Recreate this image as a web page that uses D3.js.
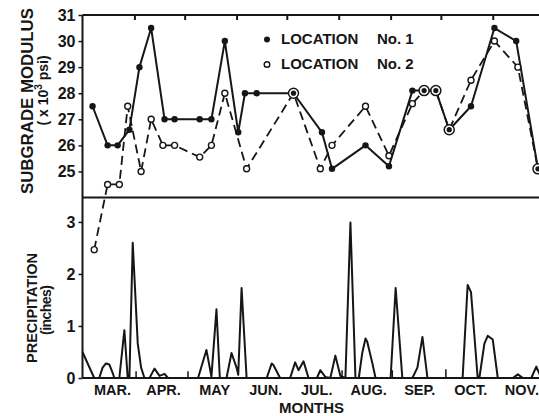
<!DOCTYPE html>
<html>
<head>
<meta charset="utf-8">
<script src="https://cdn.jsdelivr.net/npm/d3@7"></script>
<style>
    body { margin: 0; background: #fff; }
    svg { display: block; font-family: "Liberation Sans", Arial, sans-serif; font-weight: bold; }
</style>
</head>
<body>
<div id="chart"></div>
<script>
// month labels along the bottom
const months = ['MAR.', 'APR.', 'MAY', 'JUN.', 'JUL.', 'AUG.', 'SEP.', 'OCT.', 'NOV.'];
const monthStarts = ['03-01', '04-01', '05-01', '06-01', '07-01', '08-01', '09-01', '10-01', '11-01', '12-01'];

// subgrade modulus, location no. 1 (x 10^3 psi)
const loc1Dates = ['03-07', '03-16', '03-22', '03-29', '04-04', '04-11', '04-19', '04-25', '05-10', '05-17',
    '05-25', '06-02', '06-06', '06-13', '07-05', '07-22', '07-28', '08-17', '08-31', '09-14',
    '09-21', '09-28', '10-06', '10-19', '11-02', '11-15', '11-28'];
const loc1Values = [27.5, 26.0, 26.0, 26.6, 29.0, 30.5, 27.0, 27.0, 27.0, 27.0,
    30.0, 26.5, 28.0, 28.0, 28.0, 26.5, 25.1, 26.0, 25.2, 28.1,
    28.1, 28.1, 26.6, 27.5, 30.5, 30.0, 25.1];

// subgrade modulus, location no. 2
const loc2Dates = ['03-08', '03-16', '03-23', '03-28', '04-05', '04-11', '04-18', '04-25', '05-10', '05-17',
    '05-25', '06-07', '07-05', '07-21', '07-28', '08-17', '08-31', '09-14', '09-21', '09-28',
    '10-06', '10-19', '11-02', '11-16', '11-28'];
const loc2Values = [22.0, 24.5, 24.5, 27.5, 25.0, 27.0, 26.0, 26.0, 25.55, 26.0,
    28.0, 25.1, 28.0, 25.1, 26.0, 27.5, 25.6, 27.6, 28.1, 28.1,
    26.6, 28.5, 30.0, 29.0, 25.1];

// precipitation (inches)
const precipDates = ['03-01', '03-08', '03-11', '03-13', '03-15', '03-17', '03-19', '03-20', '03-23', '03-26',
    '03-28', '03-29', '03-31', '04-03', '04-05', '04-07', '04-10', '04-13', '04-16', '04-19',
    '04-21', '05-09', '05-14', '05-17', '05-20', '05-22', '05-26', '05-29', '06-01', '06-02',
    '06-04', '06-07', '06-19', '06-22', '06-23', '06-27', '07-03', '07-06', '07-08', '07-11',
    '07-14', '07-19', '07-21', '07-24', '07-27', '07-30', '08-02', '08-05', '08-08', '08-11',
    '08-13', '08-15', '08-17', '08-18', '08-21', '08-23', '09-01', '09-04', '09-08', '09-14',
    '09-17', '09-20', '09-23', '10-14', '10-17', '10-19', '10-23', '10-24', '10-27', '10-29',
    '11-01', '11-04', '11-13', '11-16', '11-19', '11-24', '11-27', '11-30'];
const precipValues = [0.5, 0, 0, 0.2, 0.28, 0.26, 0.1, 0, 0, 0.92,
    0, 0, 2.6, 0.66, 0.2, 0, 0, 0.18, 0.04, 0.08,
    0, 0, 0.54, 0.03, 1.32, 0, 0, 0.48, 0.2, 0.06,
    1.73, 0, 0, 0.28, 0.25, 0, 0, 0.3, 0.15, 0.32,
    0, 0, 0.15, 0.02, 0, 0.43, 0.04, 0, 2.99, 0,
    0, 0.47, 0.76, 0.7, 0.3, 0, 0, 1.73, 0, 0,
    0.2, 0.79, 0, 0, 1.79, 1.65, 0, 0, 0.66, 0.81,
    0.74, 0, 0, 0.07, 0, 0, 0.22, 0];

// small trace marks drawn as short vertical strokes
const traceDates = ['04-02', '05-03', '08-03', '09-02', '10-04'];
const traceValues = [0.13, 0.13, 0.15, 0.15, 0.17];

const modulusTicks = [25, 26, 27, 28, 29, 30, 31];
const precipTicks = [0, 1, 2, 3];

const width = 539, height = 416;
const plot = {left: 82.5, right: 543, top: 15, split: 197.5, bottom: 378};
const ink = '#161616';

const parseDay = d3.utcParse('%m-%d');

const x = d3.scaleUtc()
    .domain([parseDay('03-01'), parseDay('12-01')])
    .range([plot.left, plot.right]);

const yMod = d3.scaleLinear()
    .domain([24, 31])
    .range([plot.split, plot.top]);

const yPrecip = d3.scaleLinear()
    .domain([0, 3.47])
    .range([plot.bottom, plot.split]);

const loc1 = loc1Dates.map((d, i) => ({date: parseDay(d), value: loc1Values[i]}));
const loc2 = loc2Dates.map((d, i) => ({date: parseDay(d), value: loc2Values[i]}));
const precip = precipDates.map((d, i) => ({date: parseDay(d), value: precipValues[i]}));
const traces = traceDates.map((d, i) => ({date: parseDay(d), value: traceValues[i]}));

// points where both locations read the same are drawn as a ringed dot
const shared = loc2.filter(p => loc1.some(q => +q.date === +p.date && Math.abs(q.value - p.value) < 0.05));
const loc2Only = loc2.filter(p => !shared.includes(p));

const svg = d3.select('#chart')
    .append('svg')
    .attr('width', width)
    .attr('height', height);

svg.append('rect')
    .attr('width', width)
    .attr('height', height)
    .attr('fill', '#fff');

// frame
const frame = svg.append('g')
    .attr('stroke', ink)
    .attr('stroke-width', 2)
    .attr('fill', 'none');

frame.append('line')
    .attr('x1', plot.left).attr('x2', plot.right)
    .attr('y1', plot.top).attr('y2', plot.top);
frame.append('line')
    .attr('x1', plot.left).attr('x2', plot.right)
    .attr('y1', plot.split).attr('y2', plot.split);
frame.append('line')
    .attr('x1', plot.left).attr('x2', plot.right)
    .attr('y1', plot.bottom).attr('y2', plot.bottom);
frame.append('line')
    .attr('x1', plot.left).attr('x2', plot.left)
    .attr('y1', plot.top).attr('y2', plot.bottom);

// month ticks along the top, pointing inward
const topAxis = svg.append('g')
    .attr('transform', `translate(0, ${plot.top})`)
    .call(d3.axisTop(x)
        .tickValues(monthStarts.slice(1).map(parseDay))
        .tickSize(-5)
        .tickFormat(''));
topAxis.select('.domain').remove();
topAxis.selectAll('line').attr('stroke', ink).attr('stroke-width', 2);

// left axes
function styleLeft(g) {
    g.select('.domain').remove();
    g.selectAll('line').attr('stroke', ink).attr('stroke-width', 1.5);
    g.selectAll('text')
        .attr('fill', ink)
        .style('font-size', '16px')
        .style('font-weight', 'bold')
        .style('font-family', '"Liberation Sans", Arial, sans-serif');
}

svg.append('g')
    .attr('transform', `translate(${plot.left}, 0)`)
    .call(d3.axisLeft(yMod).tickValues(modulusTicks).tickFormat(d3.format('d')).tickSize(4).tickPadding(3))
    .call(styleLeft);

svg.append('g')
    .attr('transform', `translate(${plot.left}, 0)`)
    .call(d3.axisLeft(yPrecip).tickValues(precipTicks).tickFormat(d3.format('d')).tickSize(4).tickPadding(3))
    .call(styleLeft);

// month names, centred a little right of mid-month
svg.append('g')
    .selectAll('text')
    .data(months)
    .enter().append('text')
    .attr('x', (m, i) => (x(parseDay(monthStarts[i])) + x(parseDay(monthStarts[i + 1]))) / 2 + 4)
    .attr('y', 394.5)
    .attr('text-anchor', 'middle')
    .attr('fill', ink)
    .style('font-size', '14.5px')
    .text(m => m);

svg.append('text')
    .attr('x', 311.5)
    .attr('y', 413)
    .attr('text-anchor', 'middle')
    .attr('fill', ink)
    .style('font-size', '15px')
    .text('MONTHS');

// axis titles
svg.append('text')
    .attr('transform', 'translate(33, 101) rotate(-90)')
    .attr('text-anchor', 'middle')
    .attr('fill', ink)
    .style('font-size', '17px')
    .attr('textLength', 186)
    .attr('lengthAdjust', 'spacingAndGlyphs')
    .text('SUBGRADE  MODULUS');

const unitLabel = svg.append('text')
    .attr('transform', 'translate(48, 90.5) rotate(-90)')
    .attr('text-anchor', 'middle')
    .attr('fill', ink)
    .style('font-size', '14px');
unitLabel.append('tspan').text('( x 10');
unitLabel.append('tspan').attr('dy', -6).style('font-size', '10px').text('3');
unitLabel.append('tspan').attr('dy', 6).text(' psi)');

svg.append('text')
    .attr('transform', 'translate(36.5, 308) rotate(-90)')
    .attr('text-anchor', 'middle')
    .attr('fill', ink)
    .style('font-size', '15px')
    .attr('textLength', 110)
    .attr('lengthAdjust', 'spacingAndGlyphs')
    .text('PRECIPITATION');

svg.append('text')
    .attr('transform', 'translate(51, 310) rotate(-90)')
    .attr('text-anchor', 'middle')
    .attr('fill', ink)
    .style('font-size', '14px')
    .attr('textLength', 50)
    .text('(inches)');

// precipitation line
const precipLine = d3.line()
    .x(d => x(d.date))
    .y(d => yPrecip(d.value));

svg.append('path')
    .datum(precip)
    .attr('fill', 'none')
    .attr('stroke', ink)
    .attr('stroke-width', 2)
    .attr('stroke-linejoin', 'round')
    .attr('d', precipLine);

svg.append('g')
    .selectAll('line')
    .data(traces)
    .enter().append('line')
    .attr('x1', d => x(d.date))
    .attr('x2', d => x(d.date))
    .attr('y1', yPrecip(0))
    .attr('y2', d => yPrecip(d.value))
    .attr('stroke', ink)
    .attr('stroke-width', 1.5);

// modulus lines
const modLine = d3.line()
    .x(d => x(d.date))
    .y(d => yMod(d.value));

svg.append('path')
    .datum(loc2)
    .attr('fill', 'none')
    .attr('stroke', ink)
    .attr('stroke-width', 1.8)
    .attr('stroke-dasharray', '9,5')
    .attr('d', modLine);

svg.append('path')
    .datum(loc1)
    .attr('fill', 'none')
    .attr('stroke', ink)
    .attr('stroke-width', 2)
    .attr('stroke-linejoin', 'round')
    .attr('d', modLine);

svg.append('g')
    .selectAll('circle')
    .data(loc1)
    .enter().append('circle')
    .attr('cx', d => x(d.date))
    .attr('cy', d => yMod(d.value))
    .attr('r', 3.2)
    .attr('fill', ink);

svg.append('g')
    .selectAll('circle')
    .data(loc2Only)
    .enter().append('circle')
    .attr('cx', d => x(d.date))
    .attr('cy', d => yMod(d.value))
    .attr('r', 3)
    .attr('fill', '#fff')
    .attr('stroke', ink)
    .attr('stroke-width', 1.4);

const ringed = svg.append('g')
    .selectAll('g')
    .data(shared)
    .enter().append('g')
    .attr('transform', d => `translate(${x(d.date)}, ${yMod(d.value)})`);
ringed.append('circle')
    .attr('r', 5)
    .attr('fill', '#fff')
    .attr('stroke', ink)
    .attr('stroke-width', 1.5);
ringed.append('circle')
    .attr('r', 2.6)
    .attr('fill', ink);

// legend
const legend = svg.append('g')
    .attr('fill', ink)
    .style('font-size', '15px');

legend.append('circle')
    .attr('cx', 267).attr('cy', 39.5).attr('r', 3);
legend.append('circle')
    .attr('cx', 267).attr('cy', 64.5).attr('r', 2.8)
    .attr('fill', '#fff').attr('stroke', ink).attr('stroke-width', 1.4);

legend.append('text').attr('x', 281).attr('y', 44).text('LOCATION');
legend.append('text').attr('x', 377).attr('y', 44).text('No. 1');
legend.append('text').attr('x', 281).attr('y', 68.5).text('LOCATION');
legend.append('text').attr('x', 377).attr('y', 68.5).text('No. 2');
</script>
</body>
</html>
